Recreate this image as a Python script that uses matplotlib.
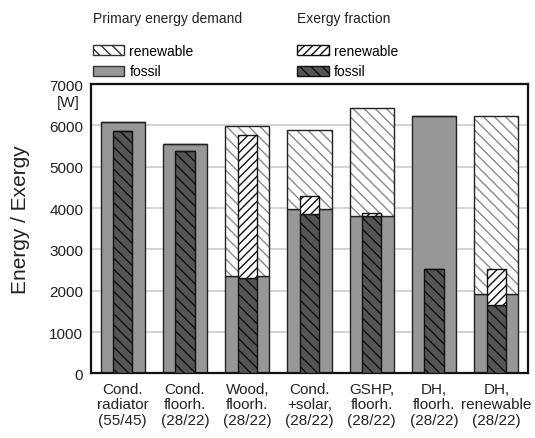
import matplotlib.pyplot as plt
from matplotlib.patches import Patch
import numpy as np

plt.rcParams['font.family'] = ['Liberation Sans', 'DejaVu Sans']
plt.rcParams['hatch.linewidth'] = 1.0

labels = ['Cond.\nradiator\n(55/45)', 'Cond.\nfloorh.\n(28/22)', 'Wood,\nfloorh.\n(28/22)',
          'Cond.\n+solar,\n(28/22)', 'GSHP,\nfloorh.\n(28/22)', 'DH,\nfloorh.\n(28/22)',
          'DH,\nrenewable\n(28/22)']

# primary energy demand [W]
prim_fossil = [6085, 5560, 2370, 3980, 3800, 6230, 1920]
prim_renew = [0, 0, 3620, 1910, 2620, 0, 4310]
# exergy fraction [W]
ex_fossil = [5875, 5375, 2320, 3865, 3800, 2530, 1645]
ex_renew = [0, 0, 3440, 430, 90, 0, 890]

c_prim_fossil = '#979797'
c_ex_fossil = '#555555'

x = np.arange(len(labels))
w_out = 0.71
w_in = 0.31

fig = plt.figure(figsize=(5.35, 4.39), dpi=100)
ax = fig.add_axes([0.171, 0.147, 0.815, 0.659])

# primary energy bars
ax.bar(x, prim_fossil, w_out, color=c_prim_fossil, edgecolor='#222222', linewidth=1.0, zorder=2)
ax.bar(x, prim_renew, w_out, bottom=prim_fossil, color='white', edgecolor='#8a8a8a',
       hatch='\\\\\\', linewidth=0, zorder=2)
ax.bar(x, prim_renew, w_out, bottom=prim_fossil, fill=False, edgecolor='#222222',
       linewidth=1.0, zorder=2)

# exergy bars
ax.bar(x, ex_fossil, w_in, color=c_ex_fossil, edgecolor='#111111', hatch='\\\\\\',
       linewidth=1.0, zorder=3)
ax.bar(x, ex_renew, w_in, bottom=ex_fossil, color='white', edgecolor='#111111',
       hatch='////', linewidth=1.0, zorder=3)

ax.set_xlim(-0.5, len(labels) - 0.5)
ax.set_ylim(0, 7000)
ax.set_yticks(range(0, 7001, 1000))
ax.set_xticks(x)
ax.set_xticklabels(labels, fontsize=11, color='#222222', linespacing=1.15)
ax.tick_params(axis='both', length=0, labelsize=11, colors='#222222', pad=6)
ax.yaxis.grid(True, color='#cccccc', linewidth=1.2, zorder=0)
ax.set_axisbelow(True)
for s in ax.spines.values():
    s.set_linewidth(1.6)
    s.set_color('#111111')

fig.text(0.038, 0.50, 'Energy / Exergy', rotation=90, fontsize=15, va='center', ha='center',
         color='#222222')
fig.text(0.15, 0.765, '[W]', fontsize=11, ha='right', va='center', color='#222222')

# legends
fig.text(0.174, 0.957, 'Primary energy demand', fontsize=10, color='#222222', va='center')
fig.text(0.555, 0.957, 'Exergy fraction', fontsize=10, color='#222222', va='center')

h_prim = [Patch(facecolor='white', edgecolor='#333333', hatch='\\\\\\', label='renewable'),
          Patch(facecolor=c_prim_fossil, edgecolor='#333333', label='fossil')]
h_ex = [Patch(facecolor='white', edgecolor='#111111', hatch='////', label='renewable'),
        Patch(facecolor=c_ex_fossil, edgecolor='#111111', hatch='\\\\\\', label='fossil')]
kw = dict(frameon=False, fontsize=10, handlelength=2.3, handleheight=0.75,
          handletextpad=0.35, labelspacing=0.45, borderpad=0, borderaxespad=0)
fig.legend(handles=h_prim, loc='upper left', bbox_to_anchor=(0.173, 0.897), **kw)
fig.legend(handles=h_ex, loc='upper left', bbox_to_anchor=(0.555, 0.897), **kw)

fig.savefig('out.png', dpi=100)
